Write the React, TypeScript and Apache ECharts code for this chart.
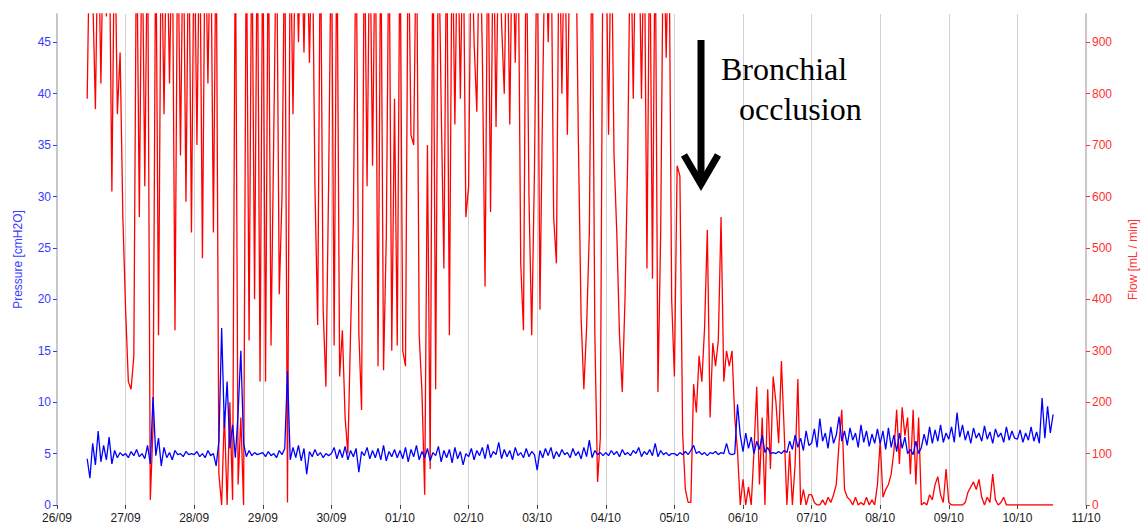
import React, { useEffect, useRef } from 'react';
import * as echarts from 'echarts';

// Date tick labels (one per day, x = day index from 26/09 00:00)
const DATE_LABELS = ['26/09', '27/09', '28/09', '29/09', '30/09', '01/10', '02/10', '03/10', '04/10', '05/10', '06/10', '07/10', '08/10', '09/10', '10/10', '11/10'];
const PRESSURE_TICKS = [0, 5, 10, 15, 20, 25, 30, 35, 40, 45];
const FLOW_TICKS = [0, 100, 200, 300, 400, 500, 600, 700, 800, 900];
const PRESSURE_MAX = 47.75;
const FLOW_MAX = 955;

// Sampling: first sample at day 0.44, one sample every 0.04 day
const SAMPLE_START = 0.44;
const SAMPLE_STEP = 0.04;

// Flow [mL/min], read per day (values above 955 run off the top of the plot)
const flow26 = [790, 1150, 1000, 770, 1150, 820, 1150, 950, 1150, 610, 1150, 760, 880, 560];
const flow27 = [380, 240, 225, 290, 1150, 560, 1150, 620, 1150, 10, 150, 1150, 330, 1150, 760, 1150, 820, 1150, 340, 1150, 680, 1150, 590, 1150, 530];
const flow28 = [1150, 700, 1150, 480, 1150, 820, 1150, 530, 1150, 60, 0, 180, 0, 200, 10, 1150, 40, 170, 0, 1150, 320, 1150, 400, 1150, 240];
const flow29 = [1150, 240, 1150, 310, 720, 1150, 410, 600, 1150, 5, 1150, 760, 1150, 900, 1150, 880, 1150, 860, 1150, 620, 350, 1150, 380, 230, 630];
const flow30 = [1150, 310, 1150, 250, 340, 170, 100, 340, 550, 1150, 335, 185, 1150, 620, 1150, 660, 1150, 270, 1150, 262, 520, 1150, 300, 790, 310];
const flow01 = [1150, 300, 270, 1150, 720, 700, 1150, 330, 220, 20, 700, 70, 1150, 225, 1150, 780, 460, 1150, 330, 1150, 740, 1150, 790, 1150, 560];
const flow02 = [620, 1150, 900, 765, 1150, 880, 425, 1150, 570, 1150, 735, 1150, 940, 800, 1150, 740, 1150, 860, 1150, 470, 340, 1150, 600, 330, 650];
const flow03 = [1150, 380, 800, 1150, 900, 1150, 560, 470, 1150, 800, 1150, 720, 1150, 960, 1150, 710, 365, 225, 345, 530, 1150, 335, 45, 130, 1150];
const flow04 = [1150, 720, 1150, 680, 530, 330, 220, 400, 680, 1150, 790, 1150, 1150, 790, 1150, 460, 1150, 440, 1150, 220, 530, 1150, 870, 1150, 400];
const flow05 = [250, 660, 640, 140, 30, 5, 5, 235, 180, 290, 240, 345, 535, 170, 315, 270, 320, 560, 240, 300, 270, 300, 170, 105, 0];
const flow06 = [50, 0, 35, 0, 105, 230, 40, 170, 0, 225, 70, 250, 200, 120, 280, 145, 0, 105, 0, 80, 245, 0, 30, 0, 20];
const flow07 = [20, 5, 0, 0, 10, 0, 15, 5, 20, 40, 120, 185, 30, 15, 10, 0, 15, 0, 5, 0, 15, 0, 10, 0, 40];
const flow08 = [125, 15, 30, 40, 60, 105, 185, 80, 190, 135, 170, 60, 185, 40, 170, 0, 5, 0, 20, 10, 40, 55, 20, 5, 70];
const flow09 = [5, 0, 0, 0, 0, 0, 5, 25, 35, 45, 30, 50, 15, 0, 15, 5, 60, 10, 0, 5, 15, 0, 0, 0, 0];
const flow10 = [0, 0, 0, 0, 0, 0, 0, 0, 0, 0, 0, 0, 0, 0];

// Pressure [cmH2O], read per day
const pres26 = [4.5, 2.6, 6.0, 3.9, 7.2, 4.2, 5.8, 4.4, 6.6, 4.0, 5.3, 4.6, 5.1, 4.8];
const pres27 = [5.0, 4.6, 5.2, 4.8, 5.4, 4.7, 5.0, 4.5, 5.8, 4.0, 10.5, 4.8, 6.5, 3.8, 5.6, 4.6, 5.1, 4.4, 5.3, 4.9, 5.0, 4.7, 5.2, 4.9, 5.0];
const pres28 = [4.9, 5.2, 4.7, 5.0, 4.6, 5.3, 4.8, 5.0, 3.8, 6.2, 17.2, 7.5, 12.0, 5.5, 7.8, 4.6, 9.0, 15.0, 6.0, 4.7, 5.3, 4.8, 5.1, 4.9, 5.0];
const pres29 = [5.1, 4.7, 5.2, 4.8, 5.0, 4.6, 5.3, 4.9, 5.5, 13.0, 4.4, 5.6, 4.6, 5.8, 4.3, 5.5, 3.0, 5.2, 4.7, 5.4, 4.8, 5.1, 4.6, 5.0, 4.8];
const pres30 = [5.0, 5.6, 4.5, 5.4, 4.6, 5.7, 4.4, 5.3, 4.7, 5.5, 3.2, 5.2, 4.8, 5.6, 4.5, 5.3, 4.6, 5.5, 4.4, 5.8, 4.3, 5.2, 4.7, 5.4, 4.6];
const pres01 = [5.3, 4.5, 5.6, 4.2, 5.4, 4.7, 5.8, 4.4, 5.2, 4.6, 5.5, 4.3, 5.1, 4.8, 5.7, 4.2, 5.3, 4.6, 5.4, 4.1, 5.6, 4.5, 5.2, 3.9, 5.0];
const pres02 = [4.7, 5.5, 4.4, 5.3, 4.8, 5.6, 4.5, 5.9, 4.6, 5.2, 4.9, 6.1, 4.5, 5.4, 4.7, 5.3, 4.4, 5.6, 4.8, 5.1, 4.6, 5.5, 4.7, 5.2, 4.9];
const pres03 = [3.4, 5.3, 4.6, 5.5, 4.8, 5.6, 4.5, 5.2, 4.7, 5.4, 4.9, 5.1, 4.6, 5.5, 4.8, 5.2, 4.5, 5.6, 4.7, 6.3, 4.6, 5.3, 4.9, 5.1, 4.8];
const pres04 = [5.1, 4.8, 5.3, 4.9, 5.2, 4.7, 5.4, 4.9, 5.1, 4.8, 5.3, 5.0, 5.6, 4.7, 5.2, 4.9, 5.4, 4.8, 6.0, 4.7, 5.3, 4.9, 5.1, 4.8, 5.0];
const pres05 = [5.0, 4.8, 5.1, 4.9, 5.2, 4.9, 5.3, 5.8, 5.0, 5.2, 4.9, 5.1, 4.8, 5.1, 5.0, 5.2, 4.9, 5.1, 5.0, 6.0, 5.0, 4.9, 5.0, 9.8, 6.8];
const pres06 = [5.2, 7.0, 5.5, 6.6, 5.0, 6.2, 5.4, 6.8, 5.1, 5.6, 5.0, 5.1, 5.0, 5.2, 5.0, 5.3, 5.1, 6.2, 5.4, 6.8, 5.6, 6.5, 5.3, 7.2, 5.8];
const pres07 = [6.0, 7.4, 5.6, 8.4, 6.2, 7.0, 5.5, 7.6, 6.0, 6.8, 8.6, 6.2, 7.2, 5.8, 7.5, 6.3, 7.0, 5.6, 7.8, 6.1, 7.2, 5.7, 6.9, 6.0, 7.4];
const pres08 = [6.0, 7.2, 5.4, 7.5, 5.6, 6.8, 5.2, 7.0, 5.5, 6.6, 5.0, 5.4, 4.9, 6.2, 5.0, 5.6, 6.9, 5.8, 7.6, 6.0, 7.3, 6.2, 7.8, 6.1, 7.0];
const pres09 = [6.4, 7.6, 6.1, 9.0, 6.6, 7.8, 6.3, 7.2, 6.0, 7.5, 6.5, 7.0, 6.2, 7.7, 6.4, 7.1, 6.0, 7.4, 6.6, 7.0, 6.1, 7.6, 6.3, 7.2, 6.5];
const pres10 = [6.4, 7.3, 6.1, 7.0, 6.3, 7.6, 6.2, 7.1, 6.0, 10.4, 6.5, 9.6, 7.0, 8.8];

const FLOW = [...flow26, ...flow27, ...flow28, ...flow29, ...flow30, ...flow01, ...flow02, ...flow03, ...flow04, ...flow05, ...flow06, ...flow07, ...flow08, ...flow09, ...flow10];
const PRESSURE = [...pres26, ...pres27, ...pres28, ...pres29, ...pres30, ...pres01, ...pres02, ...pres03, ...pres04, ...pres05, ...pres06, ...pres07, ...pres08, ...pres09, ...pres10];

const ANNOTATION_LINES = ['Bronchial', 'occlusion'];

const BLUE = '#0000ff';
const RED = '#ff0000';
const BLUE_TEXT = '#3a3aff';
const RED_TEXT = '#ff3030';
const SANS = '"Liberation Sans", Arial, sans-serif';

function toPoints(values: number[]) {
  return values.map((v, i) => [SAMPLE_START + SAMPLE_STEP * i, v]);
}

export default function App() {
  const ref = useRef<HTMLDivElement>(null);

  useEffect(() => {
    if (!ref.current) return;
    const chart = echarts.init(ref.current, undefined, { renderer: 'svg' });
    chart.setOption({
      animation: false,
      backgroundColor: '#ffffff',
      grid: { left: 57, right: 51, top: 14, bottom: 22, containLabel: false },
      xAxis: {
        type: 'value',
        min: 0,
        max: 15,
        interval: 1,
        axisLine: { show: false },
        axisTick: { show: true, length: 4, lineStyle: { color: '#444' } },
        axisLabel: {
          color: '#1a1a1a',
          fontSize: 12,
          fontFamily: SANS,
          margin: 7,
          formatter: (v: number) => DATE_LABELS[Math.round(v)] ?? '',
        },
        splitLine: { show: true, lineStyle: { color: '#d2d2d2', width: 1 } },
      },
      yAxis: [
        {
          type: 'value',
          position: 'left',
          min: 0,
          max: PRESSURE_MAX,
          name: 'Pressure [cmH2O]',
          nameLocation: 'middle',
          nameRotate: 90,
          nameGap: 33,
          nameTextStyle: { color: BLUE_TEXT, fontSize: 12, fontFamily: SANS },
          axisLine: { show: true, lineStyle: { color: '#c8c8c8', width: 2 } },
          axisTick: { show: true, length: 4, lineStyle: { color: BLUE_TEXT }, customValues: PRESSURE_TICKS },
          axisLabel: { color: BLUE_TEXT, fontSize: 12, fontFamily: SANS, margin: 6, customValues: PRESSURE_TICKS },
          splitLine: { show: false },
        },
        {
          type: 'value',
          position: 'right',
          min: 0,
          max: FLOW_MAX,
          name: 'Flow [mL / min]',
          nameLocation: 'middle',
          nameRotate: 90,
          nameGap: 41,
          nameTextStyle: { color: RED_TEXT, fontSize: 12, fontFamily: SANS },
          axisLine: { show: true, lineStyle: { color: '#c8c8c8', width: 2 } },
          axisTick: { show: true, length: 4, lineStyle: { color: RED_TEXT }, customValues: FLOW_TICKS },
          axisLabel: { color: RED_TEXT, fontSize: 12, fontFamily: SANS, margin: 6, customValues: FLOW_TICKS },
          splitLine: { show: false },
        },
      ],
      series: [
        {
          name: 'Flow',
          type: 'line',
          yAxisIndex: 1,
          data: toPoints(FLOW),
          showSymbol: false,
          clip: true,
          lineStyle: { color: RED, width: 1.3 },
          itemStyle: { color: RED },
        },
        {
          name: 'Pressure',
          type: 'line',
          yAxisIndex: 0,
          data: toPoints(PRESSURE),
          showSymbol: false,
          clip: true,
          lineStyle: { color: BLUE, width: 1.3 },
          itemStyle: { color: BLUE },
        },
      ],
      graphic: [
        {
          type: 'line',
          shape: { x1: 701, y1: 40, x2: 701, y2: 183 },
          style: { stroke: '#000', lineWidth: 7 },
          z: 100,
        },
        {
          type: 'polyline',
          shape: { points: [[684, 155], [701, 184], [718, 155]] },
          style: { stroke: '#000', lineWidth: 7, fill: 'none', lineJoin: 'miter' },
          z: 100,
        },
        {
          type: 'text',
          x: 721,
          y: 69,
          style: { text: ANNOTATION_LINES[0], fill: '#000', font: '32px "Liberation Serif", "Times New Roman", serif', textAlign: 'left', verticalAlign: 'middle' },
          z: 100,
        },
        {
          type: 'text',
          x: 739,
          y: 109,
          style: { text: ANNOTATION_LINES[1], fill: '#000', font: '32px "Liberation Serif", "Times New Roman", serif', textAlign: 'left', verticalAlign: 'middle' },
          z: 100,
        },
      ],
    });
    return () => chart.dispose();
  }, []);

  return <div ref={ref} style={{ position: 'absolute', left: 0, top: 0, width: 1147, height: 527, background: '#fff' }} />;
}
